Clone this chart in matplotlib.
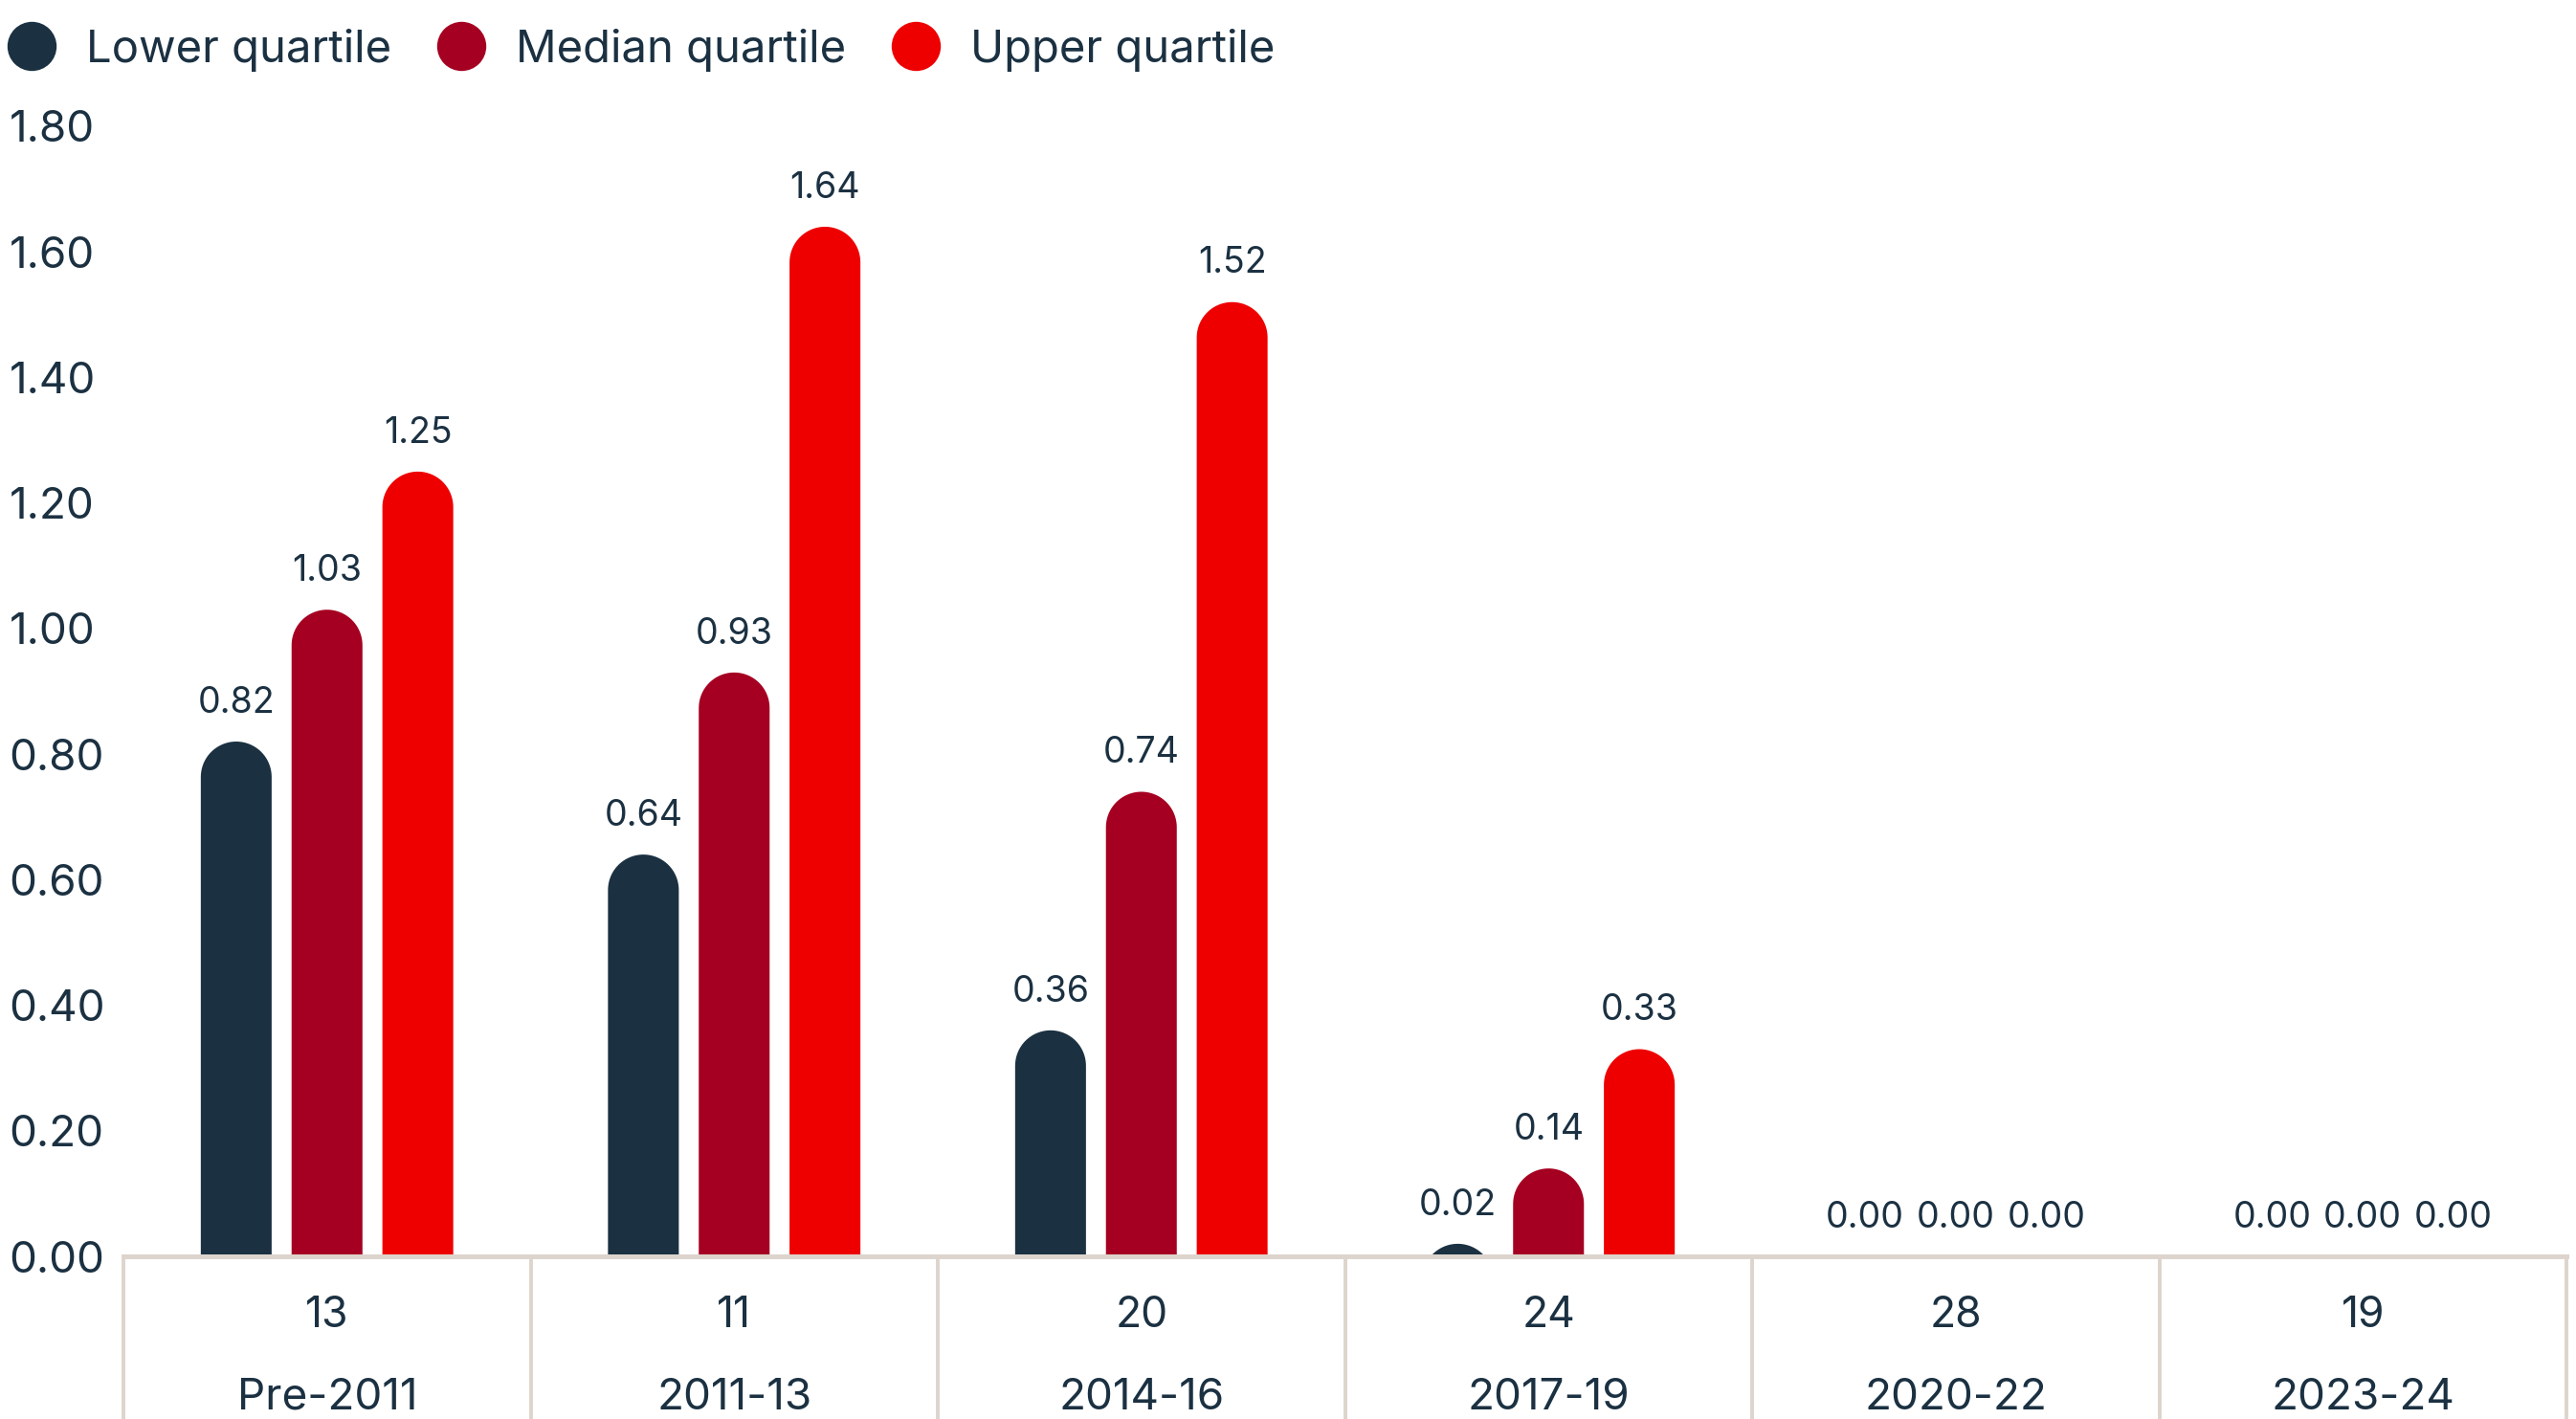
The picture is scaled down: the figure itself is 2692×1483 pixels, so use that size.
import matplotlib.pyplot as plt
from matplotlib.lines import Line2D
from matplotlib.patches import Polygon
import matplotlib.transforms as mtransforms
import numpy as np

plt.rcParams["font.family"] = ["Inter", "DejaVu Sans"]

periods = ["Pre-2011", "2011-13", "2014-16", "2017-19", "2020-22", "2023-24"]
counts = [13, 11, 20, 24, 28, 19]
lower = [0.82, 0.64, 0.36, 0.02, 0.00, 0.00]
median = [1.03, 0.93, 0.74, 0.14, 0.00, 0.00]
upper = [1.25, 1.64, 1.52, 0.33, 0.00, 0.00]
series_names = ["Lower quartile", "Median quartile", "Upper quartile"]
colors = ["#1b3142", "#a50021", "#ee0000"]
text_col = "#1b3142"
grid_col = "#ddd5cd"

W, H, DPI = 2692, 1483, 200
fig = plt.figure(figsize=(W / DPI, H / DPI), dpi=DPI)
ax = fig.add_axes([129 / W, 170 / H, (2682 - 129) / W, (1313 - 132) / H])
ax.set_xlim(-0.5, 5.5)
ax.set_ylim(0, 1.8)

bw = 0.174
step = 0.223
# pixel scale so the bar caps come out as true semicircles
px_x = (2682 - 129) / 6
px_y = (1313 - 132) / 1.8
rx = bw / 2
ry = rx * px_x / px_y


def rounded_bar(xc, top, color):
    t = np.linspace(0, np.pi, 40)
    arc_x = xc + rx * np.cos(t)
    arc_y = (top - ry) + ry * np.sin(t)
    xs = np.concatenate([[xc + rx], arc_x, [xc - rx]])
    ys = np.concatenate([[-1], arc_y, [-1]])
    ax.add_patch(Polygon(np.column_stack([xs, ys]), closed=True,
                         facecolor=color, edgecolor="none"))


x = np.arange(len(periods))
for k, (vals, c) in enumerate(zip([lower, median, upper], colors)):
    for xi, v in zip(x, vals):
        xc = xi + (k - 1) * step
        if v > 0:
            rounded_bar(xc, v, c)
        ax.annotate(f"{v:.2f}", (xc, v), xytext=(0, 14.5), textcoords="offset points",
                    ha="center", va="center", fontsize=13.5, color=text_col,
                    annotation_clip=False)

for s in ax.spines.values():
    s.set_visible(False)
ax.set_xticks([])
ax.set_yticks(np.arange(0, 1.81, 0.2))
ax.set_yticklabels([f"{v:.2f}" for v in np.arange(0, 1.81, 0.2)])
ax.tick_params(axis="y", length=0, pad=43, labelsize=16.5, labelcolor=text_col)
for lab in ax.get_yticklabels():
    lab.set_horizontalalignment("left")

# table underneath the bars
trans = mtransforms.blended_transform_factory(ax.transData, ax.transAxes)
ax.plot([-0.5, 5.5], [0, 0], color=grid_col, lw=1.8, transform=trans, clip_on=False)
for b in np.arange(-0.5, 6.0, 1.0):
    ax.plot([b, b], [0, -0.2], color=grid_col, lw=1.4, transform=trans, clip_on=False)
for xi, n, p in zip(x, counts, periods):
    ax.text(xi, -0.0525, str(n), transform=trans, ha="center", va="center",
            fontsize=16, color=text_col)
    ax.text(xi, -0.125, p, transform=trans, ha="center", va="center",
            fontsize=16.5, color=text_col)

handles = [Line2D([], [], marker="o", linestyle="none", markersize=18.5,
                  markerfacecolor=c, markeredgecolor="none") for c in colors]
fig.legend(handles, series_names, loc="upper left", bbox_to_anchor=(-0.0087, 0.999),
           ncol=3, frameon=False, fontsize=17, labelcolor=text_col,
           handletextpad=0.6, columnspacing=0.95, borderaxespad=0.2, handlelength=1.2)

fig.savefig("out.png", dpi=DPI, facecolor="white")
